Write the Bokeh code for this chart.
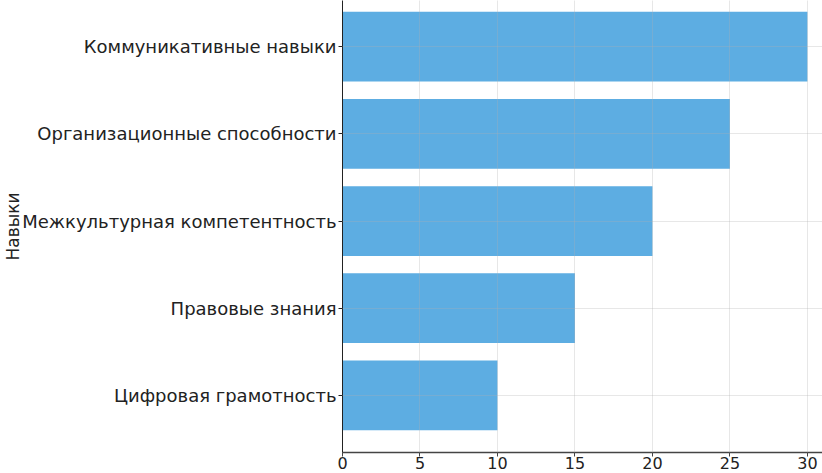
from bokeh.plotting import figure
from bokeh.models import Range1d, FixedTicker, ColumnDataSource
from bokeh.embed import file_html
from bokeh.resources import INLINE

# Data (bottom to top)
categories = [
    "Цифровая грамотность",
    "Правовые знания",
    "Межкультурная компетентность",
    "Организационные способности",
    "Коммуникативные навыки",
]
values = [10, 15, 20, 25, 30]
x_ticks = [0, 5, 10, 15, 20, 25, 30]
axis_title = "Навыки"

positions = list(range(len(categories)))
source = ColumnDataSource(dict(y=positions, v=values, cat=categories))

p = figure(
    width=822, height=473,
    output_backend="svg", toolbar_location=None,
    x_range=Range1d(0, 30.97), y_range=Range1d(-0.655, 4.53),
    min_border_left=342, min_border_right=0, min_border_top=0, min_border_bottom=21,
)
p.outline_line_color = None
p.background_fill_color = "white"
p.border_fill_color = "white"

p.hbar(y="y", left=0, right="v", height=0.8, source=source,
       fill_color="#5DADE2", line_color=None)

font = "DejaVu Sans"
# y axis
p.yaxis.ticker = FixedTicker(ticks=positions)
p.yaxis.major_label_overrides = {i: c for i, c in zip(positions, categories)}
p.yaxis.axis_label = axis_title
p.yaxis.axis_label_text_font = font
p.yaxis.axis_label_text_font_style = "normal"
p.yaxis.axis_label_text_font_size = "17px"
p.yaxis.axis_label_text_color = "#222222"
p.yaxis.axis_label_standoff = -4
p.yaxis.major_label_text_font = font
p.yaxis.major_label_text_font_size = "18px"
p.yaxis.major_label_text_color = "#222222"
p.yaxis.major_label_standoff = 2
p.yaxis.major_tick_out = 4
p.yaxis.major_tick_in = 0
p.yaxis.minor_tick_line_color = None
p.yaxis.axis_line_color = "#222222"
p.yaxis.major_tick_line_color = "#222222"

# x axis
p.xaxis.ticker = FixedTicker(ticks=x_ticks)
p.xaxis.major_label_text_font = font
p.xaxis.major_label_text_font_size = "16px"
p.xaxis.major_label_text_color = "#222222"
p.xaxis.major_label_standoff = 0
p.xaxis.major_tick_out = 4
p.xaxis.major_tick_in = 0
p.xaxis.minor_tick_line_color = None
p.xaxis.axis_line_color = "#444444"
p.xaxis.axis_line_width = 1.5
p.xaxis.major_tick_line_color = "#444444"

# grid on top of bars, faint
for g in (p.xgrid, p.ygrid):
    g.level = "overlay"
    g.grid_line_color = "#b0b0b0"
    g.grid_line_alpha = 0.3
    g.grid_line_width = 1
p.ygrid.ticker = FixedTicker(ticks=positions)
p.xgrid.ticker = FixedTicker(ticks=x_ticks)

open("out.html", "w").write(file_html(p, INLINE))
